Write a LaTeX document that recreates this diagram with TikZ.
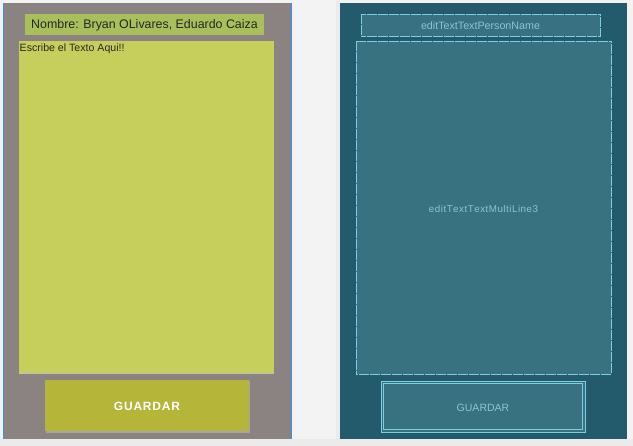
\documentclass[tikz,border=0pt]{standalone}
\usepackage{fontspec}
\setmainfont{Liberation Sans}
\definecolor{pagebg}{HTML}{F3F3F3}
\definecolor{stripbg}{HTML}{EBEBEB}
\definecolor{leftbg}{HTML}{8B8381}
\definecolor{namebg}{HTML}{A9BF5B}
\definecolor{areabg}{HTML}{C6CF5C}
\definecolor{btnbg}{HTML}{B5B53A}
\definecolor{rightbg}{HTML}{235B6D}
\definecolor{boxbg}{HTML}{38717F}
\definecolor{boxline}{HTML}{7CCFE0}
\definecolor{boxtext}{HTML}{8CC6D2}
\definecolor{selblue}{HTML}{3C8EE8}
\tikzset{
  px/.style={x=1pt,y=-1pt},
  wire/.style={draw=boxline, fill=boxbg, line width=0.7pt, inner sep=0pt, outer sep=0pt},
  finedash/.style={dash pattern=on 5pt off 0.5pt},
  wiretext/.style={text=boxtext, font=\fontsize{10.7}{12}\selectfont, inner sep=0pt},
}
\begin{document}
\begin{tikzpicture}[px]
\useasboundingbox (0,0) rectangle (633,446);
% page
\fill[pagebg] (0,0) rectangle (633,446);
\fill[stripbg] (0,439) rectangle (633,446);
\fill[stripbg] (336,0) rectangle (340,439);
% left panel
\fill[leftbg] (3,3) rectangle (292,439);
\draw[selblue, line width=0.8pt] (3.4,3) -- (3.4,439);
\draw[selblue, line width=0.8pt] (291.6,3) -- (291.6,439);
\fill[namebg] (25,14) rectangle (264,35);
\node[font=\fontsize{12.4}{15}\selectfont, text=black!85, inner sep=0pt] (name) at (144.5,25) {Nombre: Bryan OLivares, Eduardo Caiza};
\fill[areabg] (19,41) rectangle (274,373);
\draw[black!25, line width=0.6pt] (19,373) -- (274,373);
\node[anchor=north west, font=\fontsize{10.6}{12}\selectfont, text=black!85, inner sep=0pt] (hint) at (19.5,43.5) {Escribe el Texto Aqui!!};
\fill[black!35] (46,381.5) rectangle (250,433);
\fill[btnbg] (45,380) rectangle (249,431);
\node[font=\bfseries\fontsize{12}{14}\selectfont, text=white, inner sep=0pt] (guardar) at (147,406.5) {G\kern0.8pt U\kern0.8pt A\kern0.8pt R\kern0.8pt D\kern0.8pt A\kern0.8pt R};
% right panel
\fill[rightbg] (340,3) rectangle (627,439);
\draw[wire, finedash] (361,14) rectangle (600,36);
\node[wiretext] (pname) at (480.5,26) {editTextTextPersonName};
\draw[wire, finedash] (356,41) rectangle (611,374);
\node[wiretext, font=\fontsize{9.8}{12}\selectfont] (multi) at (483.5,209) {e\kern0.5pt d\kern0.5pt i\kern0.5pt t\kern0.5pt T\kern0.5pt e\kern0.5pt x\kern0.5pt t\kern0.5pt T\kern0.5pt e\kern0.5pt x\kern0.5pt t\kern0.5pt M\kern0.5pt u\kern0.5pt l\kern0.5pt t\kern0.5pt i\kern0.5pt L\kern0.5pt i\kern0.5pt n\kern0.5pt e\kern0.5pt 3};
\draw[wire] (381,381) rectangle (585,432);
\draw[boxline, line width=0.7pt] (383.5,383.5) rectangle (582.5,429.5);
\node[wiretext, font=\fontsize{10.5}{12}\selectfont] (rguardar) at (483,407.5) {GUARDAR};
\end{tikzpicture}
\end{document}
